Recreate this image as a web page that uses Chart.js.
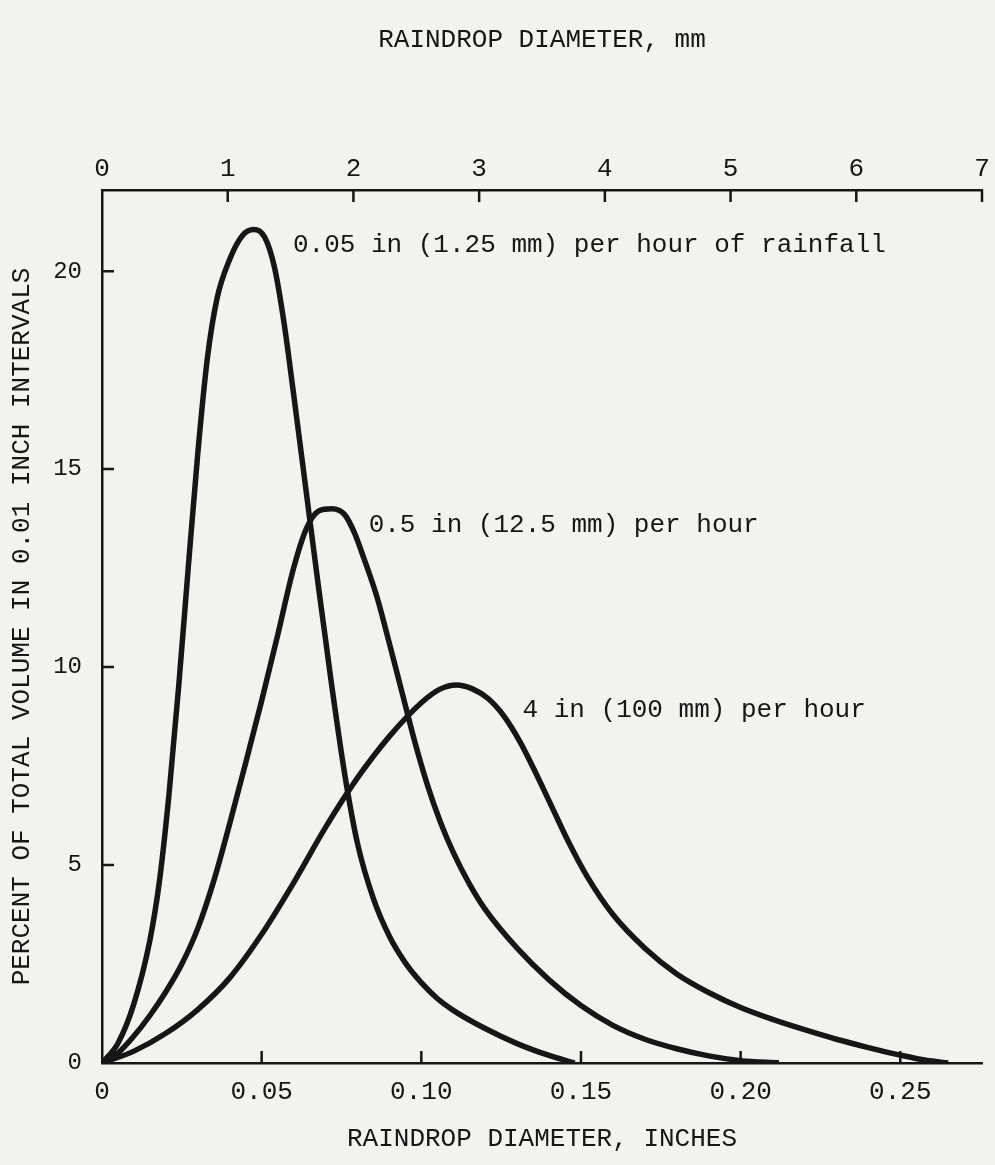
<!DOCTYPE html>
<html>
<head>
<meta charset="utf-8">
<title>Raindrop size distribution</title>
<script src="https://cdn.jsdelivr.net/npm/chart.js@4.4.1/dist/chart.umd.min.js"></script>
<style>
  html, body { margin: 0; padding: 0; background: #f2f2ef; }
  canvas { display: block; }
</style>
</head>
<body>
<canvas id="chart" width="995" height="1165"></canvas>
<script>
// --- data ---
// 0.05 in (1.25 mm) per hour
const lightX = [0, 0.005, 0.010, 0.015, 0.018, 0.021, 0.024, 0.027, 0.030, 0.033, 0.036, 0.040, 0.044, 0.0475, 0.051, 0.054, 0.057, 0.060, 0.064, 0.068, 0.072, 0.076, 0.080, 0.085, 0.090, 0.095, 0.100, 0.105, 0.110, 0.120, 0.130, 0.140, 0.148];
const lightY = [0, 0.5, 1.5, 3.1, 4.6, 6.8, 9.5, 12.5, 15.4, 17.8, 19.3, 20.3, 20.9, 21.05, 20.85, 20.1, 18.7, 16.9, 14.4, 11.9, 9.5, 7.3, 5.55, 4.15, 3.2, 2.53, 2.03, 1.63, 1.33, 0.87, 0.49, 0.19, 0];

// 0.5 in (12.5 mm) per hour
const mediumX = [0, 0.005, 0.010, 0.015, 0.020, 0.025, 0.030, 0.035, 0.040, 0.045, 0.050, 0.055, 0.060, 0.064, 0.068, 0.072, 0.076, 0.079, 0.082, 0.086, 0.090, 0.094, 0.098, 0.102, 0.106, 0.110, 0.115, 0.120, 0.130, 0.140, 0.150, 0.160, 0.170, 0.180, 0.190, 0.200, 0.212];
const mediumY = [0, 0.25, 0.68, 1.2, 1.8, 2.5, 3.4, 4.6, 6.05, 7.58, 9.15, 10.8, 12.5, 13.5, 13.95, 14.0, 13.85, 13.4, 12.75, 11.8, 10.6, 9.35, 8.1, 7.0, 6.08, 5.32, 4.53, 3.88, 2.9, 2.1, 1.45, 0.95, 0.6, 0.36, 0.18, 0.06, 0];

// 4 in (100 mm) per hour
const heavyX = [0, 0.010, 0.020, 0.030, 0.040, 0.050, 0.060, 0.070, 0.080, 0.090, 0.100, 0.106, 0.111, 0.116, 0.121, 0.126, 0.131, 0.136, 0.141, 0.146, 0.152, 0.160, 0.170, 0.180, 0.190, 0.200, 0.210, 0.220, 0.230, 0.240, 0.250, 0.258, 0.265];
const heavyY = [0, 0.3, 0.75, 1.35, 2.15, 3.25, 4.55, 5.95, 7.2, 8.25, 9.1, 9.45, 9.55, 9.45, 9.2, 8.75, 8.1, 7.3, 6.45, 5.6, 4.7, 3.75, 2.9, 2.25, 1.78, 1.4, 1.1, 0.84, 0.6, 0.39, 0.2, 0.07, 0];

// curve labels, anchored in data units (inches, percent)
const noteText = ['0.05 in (1.25 mm) per hour of rainfall', '0.5 in (12.5 mm) per hour', '4 in (100 mm) per hour'];
const noteX = [0.0598, 0.0835, 0.1317];
const noteY = [20.66, 13.59, 8.91];

// axis ticks
const inchTicks = [0, 0.05, 0.10, 0.15, 0.20, 0.25];
const mmTicks = [0, 1, 2, 3, 4, 5, 6, 7];
const percentTicks = [0, 5, 10, 15, 20];

const maxMm = 7;
const maxInch = maxMm / 25.4;
const maxPercent = 22.05;

// --- look ---
const ink = '#161616';
const typeFont = { family: "'Liberation Mono', 'DejaVu Sans Mono', monospace", size: 26 };
const tickLen = 12;

Chart.defaults.font.family = typeFont.family;
Chart.defaults.color = ink;

const toPoints = (xs, ys) => xs.map((x, i) => ({ x: x, y: ys[i] }));

// ticks in the figure point into the plot, and the curves carry text labels
const figureMarks = {
    id: 'figureMarks',
    afterDraw(chart) {
        const { ctx, chartArea: a, scales } = chart;
        ctx.save();
        ctx.strokeStyle = ink;
        ctx.lineWidth = 2.5;
        ctx.beginPath();
        inchTicks.forEach(v => {
            if (v === 0) return;
            const px = scales.x.getPixelForValue(v);
            ctx.moveTo(px, a.bottom);
            ctx.lineTo(px, a.bottom - tickLen);
        });
        mmTicks.forEach(v => {
            if (v === 0) return;
            const px = scales.x2.getPixelForValue(v);
            ctx.moveTo(px, a.top);
            ctx.lineTo(px, a.top + tickLen);
        });
        percentTicks.forEach(v => {
            if (v === 0) return;
            const py = scales.y.getPixelForValue(v);
            ctx.moveTo(a.left, py);
            ctx.lineTo(a.left + tickLen, py);
        });
        ctx.stroke();

        ctx.fillStyle = ink;
        ctx.font = typeFont.size + 'px ' + typeFont.family;
        ctx.textAlign = 'left';
        ctx.textBaseline = 'middle';
        noteText.forEach((t, i) => {
            ctx.fillText(t, scales.x.getPixelForValue(noteX[i]), scales.y.getPixelForValue(noteY[i]));
        });
        ctx.restore();
    }
};

const curve = (label, xs, ys) => ({
    label: label,
    data: toPoints(xs, ys),
    borderColor: ink,
    borderWidth: 5.5,
    pointRadius: 0,
    fill: false,
    cubicInterpolationMode: 'monotone',
    xAxisID: 'x',
    yAxisID: 'y'
});

const axisBorder = { display: true, color: ink, width: 2.5 };
const noGrid = { display: false, drawTicks: false };

new Chart(document.getElementById('chart'), {
    type: 'line',
    data: {
        datasets: [
            curve(noteText[0], lightX, lightY),
            curve(noteText[1], mediumX, mediumY),
            curve(noteText[2], heavyX, heavyY)
        ]
    },
    options: {
        responsive: false,
        animation: false,
        devicePixelRatio: 1,
        layout: { padding: { left: 0, right: 13, top: 0, bottom: 0 } },
        plugins: { legend: { display: false }, tooltip: { enabled: false } },
        scales: {
            x: {
                type: 'linear',
                position: 'bottom',
                min: 0,
                max: maxInch,
                grid: noGrid,
                border: axisBorder,
                afterBuildTicks: s => { s.ticks = inchTicks.map(v => ({ value: v })); },
                ticks: {
                    font: typeFont,
                    color: ink,
                    padding: 14,
                    maxRotation: 0,
                    callback: v => v === 0 ? '0' : v.toFixed(2)
                },
                title: {
                    display: true,
                    text: 'RAINDROP DIAMETER, INCHES',
                    font: typeFont,
                    color: ink,
                    padding: { top: 0, bottom: 10 }
                },
                afterFit: s => { s.height = 102; }
            },
            x2: {
                type: 'linear',
                position: 'top',
                min: 0,
                max: maxMm,
                grid: noGrid,
                border: axisBorder,
                afterBuildTicks: s => { s.ticks = mmTicks.map(v => ({ value: v })); },
                ticks: {
                    font: typeFont,
                    color: ink,
                    padding: 5,
                    maxRotation: 0,
                    callback: v => String(v)
                },
                title: {
                    display: true,
                    text: 'RAINDROP DIAMETER, mm',
                    font: typeFont,
                    color: ink,
                    padding: { top: 25, bottom: 0 }
                },
                afterFit: s => { s.height = 190; }
            },
            y: {
                type: 'linear',
                position: 'left',
                min: 0,
                max: maxPercent,
                grid: noGrid,
                border: axisBorder,
                afterBuildTicks: s => { s.ticks = percentTicks.map(v => ({ value: v })); },
                ticks: {
                    font: { family: typeFont.family, size: 24 },
                    color: ink,
                    padding: 20,
                    callback: v => String(v)
                },
                title: {
                    display: true,
                    text: 'PERCENT OF TOTAL VOLUME IN 0.01 INCH INTERVALS',
                    font: typeFont,
                    color: ink,
                    padding: { top: 7, bottom: 0 }
                },
                afterFit: s => { s.width = 102; }
            }
        }
    },
    plugins: [figureMarks]
});
</script>
</body>
</html>
